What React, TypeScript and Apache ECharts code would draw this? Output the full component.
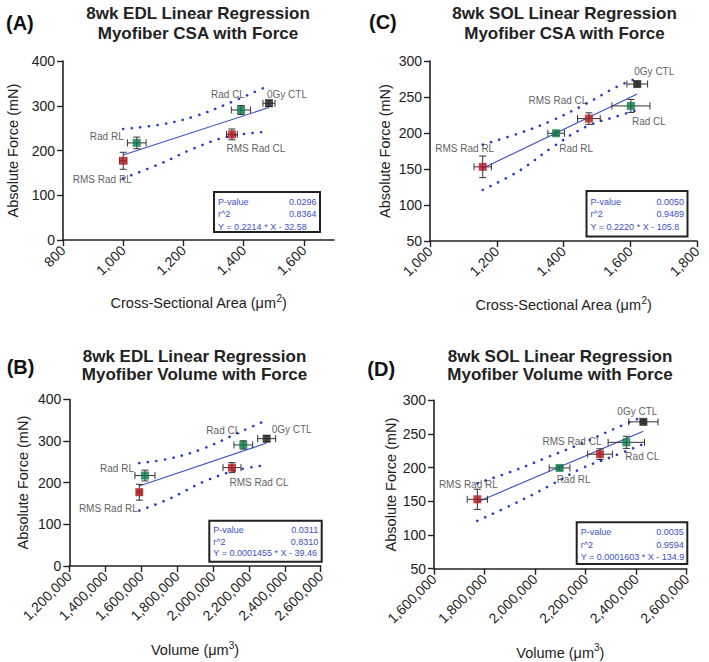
import React, { useEffect, useRef } from "react";
import * as echarts from "echarts";

// ---------- data ----------
const groups = ["0Gy CTL", "Rad CL", "Rad RL", "RMS Rad CL", "RMS Rad RL"];
const groupColors = ["#231f20", "#0b7a4b", "#0b7a4b", "#b3191e", "#b3191e"];

// EDL
const forceEDL = [305.5, 290.5, 217, 236, 177];
const forceEDLErr = [7, 10, 13, 12, 19];
const csaEDL = [1484, 1391, 1045, 1361, 1000];
const csaEDLErr = [20, 32, 31, 18, 12];
const volEDL = [2299000, 2169000, 1621500, 2106000, 1590000];
const volEDLErr = [50000, 52000, 56000, 50000, 12000];

// SOL
const forceSOL = [268, 237.6, 199.6, 220, 153];
const forceSOLErr = [3, 9, 3, 8, 15];
const csaSOL = [1621, 1602, 1378, 1476, 1158];
const csaSOLErr = [31, 57, 25, 34, 26];
const volSOL = [2428500, 2361000, 2097000, 2257000, 1771500];
const volSOLErr = [58000, 72000, 41000, 49000, 40000];

// regression lines (end points)
const fitA = [[1000, 190], [1484, 296]];
const fitB = [[1590000, 192], [2299000, 295]];
const fitC = [[1158, 151], [1621, 254]];
const fitD = [[1771500, 149], [2428500, 254]];

// 95% confidence bands
const bandAUpper = [[1000, 248], [1125, 258], [1236, 276], [1348, 305], [1484, 345]];
const bandALower = [[1000, 138], [1125, 171], [1236, 205], [1348, 231], [1484, 242]];
const bandBUpper = [[1590000, 247], [1761000, 258], [1947000, 282], [2133000, 318], [2299000, 350]];
const bandBLower = [[1590000, 133], [1761000, 162], [1947000, 202], [2133000, 230], [2299000, 242]];
const bandCUpper = [[1158, 184], [1269, 200], [1369, 218], [1469, 241], [1559, 264], [1621, 276]];
const bandCLower = [[1158, 121], [1269, 148], [1369, 181], [1469, 209], [1559, 223], [1621, 232]];
const bandDUpper = [[1771500, 177], [1920000, 196], [2052000, 216], [2185000, 236], [2303000, 256], [2428500, 276]];
const bandDLower = [[1771500, 121], [1920000, 147], [2052000, 172], [2185000, 199], [2303000, 216], [2428500, 235]];

// stats boxes
const statNames = ["P-value", "r^2"];
const statsA = ["0.0296", "0.8364", "Y = 0.2214 * X - 32.58"];
const statsB = ["0.0311", "0.8310", "Y = 0.0001455 * X - 39.46"];
const statsC = ["0.0050", "0.9489", "Y = 0.2220 * X - 105.8"];
const statsD = ["0.0035", "0.9594", "Y = 0.0001603 * X - 134.9"];

// tick labels
const xTicksA = [800, 1000, 1200, 1400, 1600];
const xTicksC = [1000, 1200, 1400, 1600, 1800];
const xTicksB = [1200000, 1400000, 1600000, 1800000, 2000000, 2200000, 2400000, 2600000];
const xTicksD = [1600000, 1800000, 2000000, 2200000, 2400000, 2600000];
const yTicksEDL = [0, 100, 200, 300, 400];
const yTicksSOL = [50, 100, 150, 200, 250, 300];

const titlesA = ["8wk EDL Linear Regression", "Myofiber CSA with Force"];
const titlesB = ["8wk EDL Linear Regression", "Myofiber Volume with Force"];
const titlesC = ["8wk SOL Linear Regression", "Myofiber CSA with Force"];
const titlesD = ["8wk SOL Linear Regression", "Myofiber Volume with Force"];

// ---------- layout / style ----------
const FONT = '"Liberation Sans", Arial, Helvetica, sans-serif';
const INK = "#222";
const BLUE = "#3b4fc4";

type Panel = {
  letter: string;
  titles: string[];
  x: number[]; xErr: number[]; y: number[]; yErr: number[];
  fit: number[][]; up: number[][]; lo: number[][];
  stats: string[];
  xTicks: number[]; xMax: number; yTicks: number[];
  xName: string;
  grid: { left: number; top: number; width: number; height: number };
  labelOffsets: number[][];
  letterPos: number[]; titleCx: number; titleY: number[];
  box: number[]; boxLines: number[];
  xNameGap: number; yNameGap: number;
};

const panels: Panel[] = [
  {
    letter: "(A)", titles: titlesA,
    x: csaEDL, xErr: csaEDLErr, y: forceEDL, yErr: forceEDLErr,
    fit: fitA, up: bandAUpper, lo: bandALower, stats: statsA,
    xTicks: xTicksA, xMax: 1700, yTicks: yTicksEDL,
    xName: "Cross-Sectional Area (μm{sup|2})",
    grid: { left: 63, top: 61, width: 271, height: 179 },
    labelOffsets: [[18, -9], [-13, -16], [-30, -6], [24, 14], [-21, 19]],
    letterPos: [6, 22.5], titleCx: 198, titleY: [13.5, 33.5],
    box: [214, 192, 106, 40], boxLines: [9.7, 22.3, 35.3],
    xNameGap: 53, yNameGap: 43,
  },
  {
    letter: "(C)", titles: titlesC,
    x: csaSOL, xErr: csaSOLErr, y: forceSOL, yErr: forceSOLErr,
    fit: fitC, up: bandCUpper, lo: bandCLower, stats: statsC,
    xTicks: xTicksC, xMax: 1800, yTicks: yTicksSOL,
    xName: "Cross-Sectional Area (μm{sup|2})",
    grid: { left: 430, top: 61, width: 267, height: 180 },
    labelOffsets: [[17, -13], [18, 16], [20, 15], [-31, -18], [-18, -18]],
    letterPos: [369, 22], titleCx: 564.5, titleY: [13.5, 33.5],
    box: [586.5, 191, 101, 45.5], boxLines: [10.7, 23.3, 36.3],
    xNameGap: 54, yNameGap: 38,
  },
  {
    letter: "(B)", titles: titlesB,
    x: volEDL, xErr: volEDLErr, y: forceEDL, yErr: forceEDLErr,
    fit: fitB, up: bandBUpper, lo: bandBLower, stats: statsB,
    xTicks: xTicksB, xMax: 2600000, yTicks: yTicksEDL,
    xName: "Volume (μm{sup|3})",
    grid: { left: 69.3, top: 399.3, width: 251.4, height: 166.7 },
    labelOffsets: [[25, -9], [-20, -14], [-28, -7], [27, 15], [-31, 16]],
    letterPos: [6.7, 367], titleCx: 194.5, titleY: [356.7, 374],
    box: [209.3, 520.7, 112.4, 41], boxLines: [9.5, 21, 32],
    xNameGap: 74, yNameGap: 39,
  },
  {
    letter: "(D)", titles: titlesD,
    x: volSOL, xErr: volSOLErr, y: forceSOL, yErr: forceSOLErr,
    fit: fitD, up: bandDUpper, lo: bandDLower, stats: statsD,
    xTicks: xTicksD, xMax: 2600000, yTicks: yTicksSOL,
    xName: "Volume (μm{sup|3})",
    grid: { left: 434, top: 400.3, width: 252.7, height: 168.4 },
    labelOffsets: [[-6, -10], [16, 14], [14, 12], [-28, -13], [-9, -15]],
    letterPos: [367.3, 369], titleCx: 560, titleY: [356.7, 374],
    box: [576.7, 522.3, 110.6, 41.7], boxLines: [9.4, 22.7, 35],
    xNameGap: 74, yNameGap: 35,
  },
];

const fmt = (v: number) => v.toLocaleString("en-US");

function renderErr(params: any, api: any) {
  const x = api.value(0), y = api.value(1), xe = api.value(2), ye = api.value(3);
  const l = api.coord([x - xe, y]);
  const r = api.coord([x + xe, y]);
  const t = api.coord([x, y + ye]);
  const b = api.coord([x, y - ye]);
  const cap = 3.5;
  const style = { stroke: "#333", lineWidth: 1 };
  const ln = (x1: number, y1: number, x2: number, y2: number) => ({
    type: "line", shape: { x1, y1, x2, y2 }, style,
  });
  return {
    type: "group",
    children: [
      ln(l[0], l[1], r[0], r[1]),
      ln(l[0], l[1] - cap, l[0], l[1] + cap),
      ln(r[0], r[1] - cap, r[0], r[1] + cap),
      ln(t[0], t[1], b[0], b[1]),
      ln(t[0] - cap, t[1], t[0] + cap, t[1]),
      ln(b[0] - cap, b[1], b[0] + cap, b[1]),
    ],
  };
}

function buildOption() {
  const grid: any[] = [];
  const xAxis: any[] = [];
  const yAxis: any[] = [];
  const series: any[] = [];
  const graphic: any[] = [];

  panels.forEach((p, i) => {
    grid.push({ ...p.grid, containLabel: false });
    xAxis.push({
      type: "value", gridIndex: i,
      min: p.xTicks[0], max: p.xMax, interval: p.xTicks[1] - p.xTicks[0],
      splitLine: { show: false },
      axisLine: { show: true, onZero: false, lineStyle: { color: INK, width: 1.6 } },
      axisTick: { show: true, length: 6, lineStyle: { color: INK, width: 1.4 }, customValues: p.xTicks },
      axisLabel: {
        rotate: 45, margin: 8, color: INK, fontSize: 14, fontFamily: FONT,
        customValues: p.xTicks, formatter: (v: number) => fmt(v),
      },
      name: p.xName, nameLocation: "middle", nameGap: p.xNameGap,
      nameTextStyle: {
        color: INK, fontSize: 14.5, fontFamily: FONT,
        rich: { sup: { fontSize: 10, fontFamily: FONT, color: INK, padding: [0, 0, 10, 0] } },
      },
    });
    yAxis.push({
      type: "value", gridIndex: i,
      min: p.yTicks[0], max: p.yTicks[p.yTicks.length - 1], interval: p.yTicks[1] - p.yTicks[0],
      splitLine: { show: false },
      axisLine: { show: true, onZero: false, lineStyle: { color: INK, width: 1.6 } },
      axisTick: { show: true, length: 6, lineStyle: { color: INK, width: 1.4 } },
      axisLabel: { margin: 8, color: INK, fontSize: 14, fontFamily: FONT },
      name: "Absolute Force (mN)", nameLocation: "middle", nameGap: p.yNameGap,
      nameTextStyle: { color: INK, fontSize: 14.5, fontFamily: FONT },
    });

    const lineBase = {
      type: "line", xAxisIndex: i, yAxisIndex: i, showSymbol: false, symbol: "none",
      silent: true, z: 2,
    };
    series.push({ ...lineBase, data: p.fit, lineStyle: { color: BLUE, width: 1.1 } });
    series.push({
      ...lineBase, data: p.up, smooth: 0.4,
      lineStyle: { color: "#2a3cc0", width: 2.6, type: [0.1, 8.5], cap: "round" },
    });
    series.push({
      ...lineBase, data: p.lo, smooth: 0.4,
      lineStyle: { color: "#2a3cc0", width: 2.6, type: [0.1, 8.5], cap: "round" },
    });
    series.push({
      type: "custom", xAxisIndex: i, yAxisIndex: i, z: 3, silent: true,
      renderItem: renderErr,
      encode: { x: 0, y: 1 },
      data: p.x.map((xv, k) => [xv, p.y[k], p.xErr[k], p.yErr[k]]),
    });
    series.push({
      type: "scatter", xAxisIndex: i, yAxisIndex: i, z: 4,
      symbol: "rect", symbolSize: 8,
      data: p.x.map((xv, k) => ({
        value: [xv, p.y[k]],
        name: groups[k],
        itemStyle: { color: groupColors[k] },
        label: {
          show: true, position: "inside", offset: p.labelOffsets[k],
          formatter: groups[k], color: "#333", fontSize: 10, fontFamily: FONT,
        },
      })),
    });

    // panel letter and titles
    graphic.push({
      type: "text", x: p.letterPos[0], y: p.letterPos[1],
      style: { text: p.letter, font: `bold 20px ${FONT}`, fill: "#111", textAlign: "left", textVerticalAlign: "middle" },
    });
    p.titles.forEach((t, k) => {
      graphic.push({
        type: "text", x: p.titleCx, y: p.titleY[k],
        style: { text: t, font: `bold 17px ${FONT}`, fill: INK, textAlign: "center", textVerticalAlign: "middle" },
      });
    });

    // stats box
    const [bx, by, bw, bh] = p.box;
    graphic.push({
      type: "rect", shape: { x: bx, y: by, width: bw, height: bh },
      style: { fill: "#fff", stroke: INK, lineWidth: 2 }, z: 10,
    });
    const tStyle = (text: string, x: number, y: number, align: string) => ({
      type: "text", x, y, z: 11,
      style: { text, font: `9px ${FONT}`, fill: BLUE, textAlign: align, textVerticalAlign: "middle" },
    });
    graphic.push(tStyle(statNames[0], bx + 4, by + p.boxLines[0], "left"));
    graphic.push(tStyle(p.stats[0], bx + bw - 3.5, by + p.boxLines[0], "right"));
    graphic.push(tStyle(statNames[1], bx + 4, by + p.boxLines[1], "left"));
    graphic.push(tStyle(p.stats[1], bx + bw - 3.5, by + p.boxLines[1], "right"));
    graphic.push(tStyle(p.stats[2], bx + 4, by + p.boxLines[2], "left"));
  });

  return {
    animation: false,
    backgroundColor: "#ffffff",
    textStyle: { fontFamily: FONT },
    grid, xAxis, yAxis, series, graphic,
  };
}

export default function App() {
  const ref = useRef<HTMLDivElement>(null);
  useEffect(() => {
    if (!ref.current) return;
    const chart = echarts.init(ref.current, null, { renderer: "svg" });
    chart.setOption(buildOption() as any);
    return () => chart.dispose();
  }, []);
  return (
    <div
      ref={ref}
      style={{ position: "absolute", left: 0, top: 0, width: 709, height: 662, background: "#fff" }}
    />
  );
}
